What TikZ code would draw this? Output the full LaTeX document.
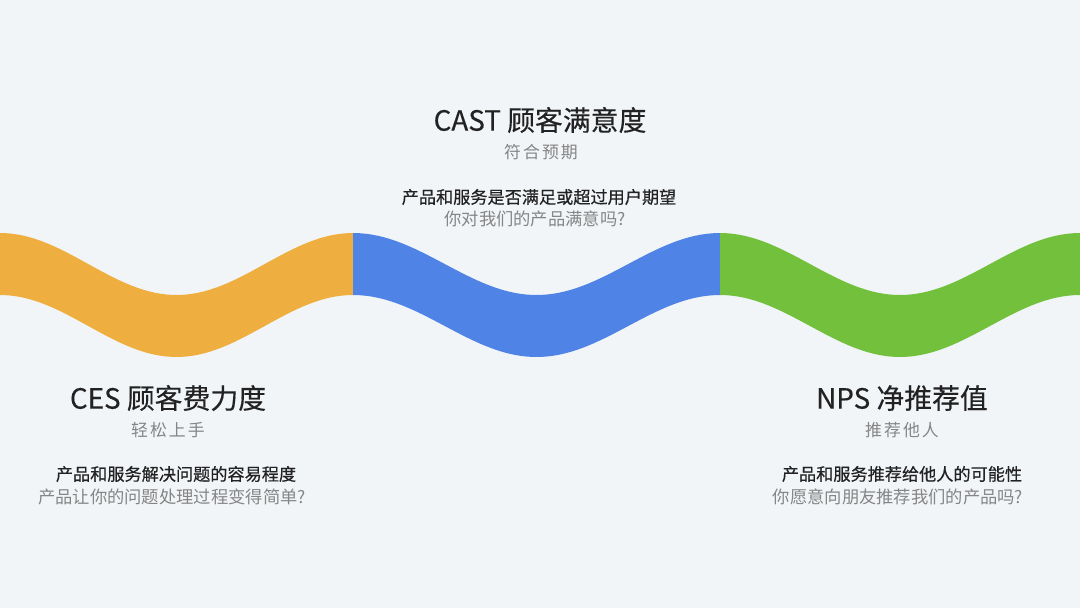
\documentclass[tikz,border=0pt]{standalone}
\usepackage{fontspec}
\usepackage{tikz}
\usetikzlibrary{positioning}
\newfontfamily\cjk{Noto Sans CJK SC}
\newfontfamily\cjktitle{Noto Sans CJK SC}[FakeBold=0.3]
\newfontfamily\cjksub{Noto Sans CJK SC}[LetterSpace=12]
\newfontfamily\cjkmid{Noto Sans CJK SC}[FakeBold=0.5]
\definecolor{bgcol}{HTML}{F2F5F8}
\definecolor{cesorange}{HTML}{EFAF40}
\definecolor{castblue}{HTML}{4F83E6}
\definecolor{npsgreen}{HTML}{72C03C}
\definecolor{darktext}{HTML}{222222}
\definecolor{greytext}{HTML}{858585}

\begin{document}
\begin{tikzpicture}[x=0.025cm, y=-0.025cm, node distance=2mm,
    title/.style = {font=\cjktitle\fontsize{19.8}{22}\selectfont, text=darktext, inner sep=0pt},
    sub/.style = {font=\cjksub\fontsize{12}{14}\selectfont, text=greytext, inner sep=0pt},
    line/.style = {font=\cjkmid\fontsize{12.2}{14}\selectfont, text=darktext, inner sep=0pt},
    ask/.style = {font=\cjk\fontsize{12.3}{14}\selectfont, text=greytext, inner sep=0pt}]
    \useasboundingbox (0,0) rectangle (1080,608);
    \fill[bgcol] (0,0) rectangle (1080,608);

    %Wave band, one period per segment
    \fill[cesorange] plot[domain=0:353, samples=60] (\x,{264-31*cos(\x*(360/353))})
        -- plot[domain=353:0, samples=60] (\x,{326-31*cos(\x*(360/353))}) -- cycle;
    \fill[castblue] plot[domain=353:720, samples=60] (\x,{264-31*cos((\x-353)*(360/367))})
        -- plot[domain=720:353, samples=60] (\x,{326-31*cos((\x-353)*(360/367))}) -- cycle;
    \fill[npsgreen] plot[domain=720:1080, samples=60] (\x,{264-31*cos(\x-720)})
        -- plot[domain=1080:720, samples=60] (\x,{326-31*cos(\x-720)}) -- cycle;

    %CAST, top middle
    \node[title] (cast) at (540,120) {CAST 顾客满意度};
    \node[sub] (castsub) at (541,152) {符合预期};
    \node[line] (castq) at (539,197) {产品和服务是否满足或超过用户期望};
    \node[ask] (castask) at (535,219) {你对我们的产品满意吗?};

    %CES, bottom left
    \node[title] (ces) at (168,398) {CES 顾客费力度};
    \node[sub] (cessub) at (168,430) {轻松上手};
    \node[line] (cesq) at (176,474) {产品和服务解决问题的容易程度};
    \node[ask] (cesask) at (172,497) {产品让你的问题处理过程变得简单?};

    %NPS, bottom right
    \node[title] (nps) at (902,398) {NPS 净推荐值};
    \node[sub] (npssub) at (902,430) {推荐他人};
    \node[line] (npsq) at (902,474) {产品和服务推荐给他人的可能性};
    \node[ask] (npsask) at (898,497) {你愿意向朋友推荐我们的产品吗?};
\end{tikzpicture}
\end{document}
